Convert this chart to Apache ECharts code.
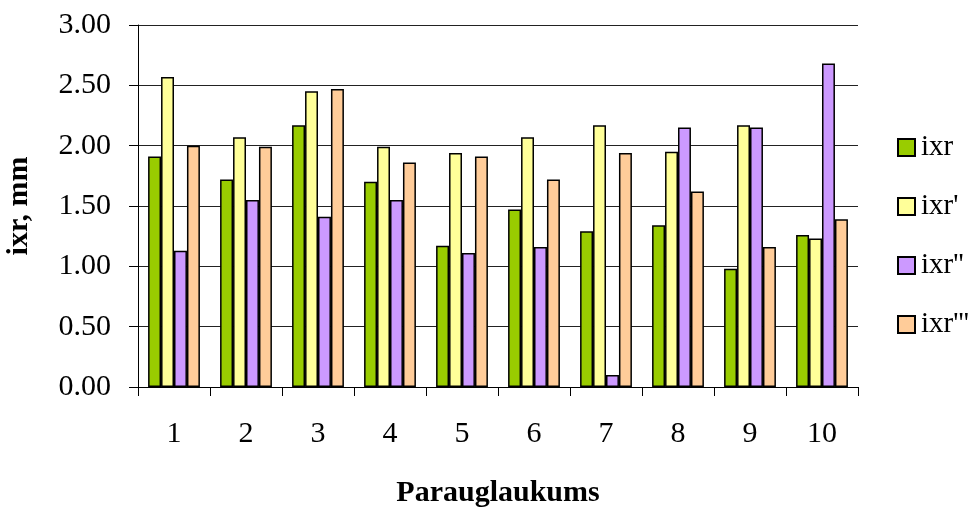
<!DOCTYPE html>
<html>
<head>
<meta charset="utf-8">
<script src="https://cdn.jsdelivr.net/npm/echarts@6/dist/echarts.min.js"></script>
<style>html,body{margin:0;padding:0;background:#fff;}#c{width:968px;height:508px;}</style>
</head>
<body>
<div id="c"></div>
<script>
const categories = ['1','2','3','4','5','6','7','8','9','10'];
const seriesNames = ['ixr', "ixr'", "ixr''", "ixr'''"];
const ixr   = [1.91, 1.72, 2.17, 1.70, 1.17, 1.47, 1.29, 1.34, 0.98, 1.26];
const ixr1  = [2.57, 2.07, 2.45, 1.99, 1.94, 2.07, 2.17, 1.95, 2.17, 1.23];
const ixr2  = [1.13, 1.55, 1.41, 1.55, 1.11, 1.16, 0.10, 2.15, 2.15, 2.68];
const ixr3  = [2.00, 1.99, 2.47, 1.86, 1.91, 1.72, 1.94, 1.62, 1.16, 1.39];
const yTicks = { min: 0, max: 3, interval: 0.5 };

const colors = ['#99CC00', '#FFFF99', '#CC99FF', '#FFCC99'];
const font = '"Liberation Serif", "Times New Roman", serif';
const values = [ixr, ixr1, ixr2, ixr3];

const chart = echarts.init(document.getElementById('c'), null, { renderer: 'canvas' });
chart.setOption({
  animation: false,
  backgroundColor: '#fff',
  textStyle: { fontFamily: font },
  grid: { left: 138, right: 110, top: 25, bottom: 121, containLabel: false, outerBoundsMode: 'none' },
  legend: {
    orient: 'vertical',
    left: 892,
    top: 128,
    itemWidth: 17,
    itemHeight: 17,
    itemGap: 30,
    icon: 'rect',
    textStyle: { fontFamily: font, fontSize: 29, color: '#000', padding: [0, 0, 0, 1] },
    data: seriesNames
  },
  xAxis: {
    type: 'category',
    data: categories,
    name: 'Parauglaukums',
    nameLocation: 'middle',
    nameGap: 91,
    nameTextStyle: { fontFamily: font, fontSize: 30, fontWeight: 'bold', color: '#000' },
    axisLine: { lineStyle: { color: '#000', width: 1 } },
    axisTick: { show: true, length: 9, lineStyle: { color: '#000' } },
    axisLabel: { fontFamily: font, fontSize: 30, color: '#000', margin: 32 },
    splitLine: { show: false }
  },
  yAxis: {
    type: 'value',
    min: yTicks.min,
    max: yTicks.max,
    interval: yTicks.interval,
    name: 'ixr, mm',
    nameLocation: 'middle',
    nameGap: 104,
    nameRotate: 90,
    nameTextStyle: { fontFamily: font, fontSize: 30, fontWeight: 'bold', color: '#000' },
    axisLine: { show: true, lineStyle: { color: '#000', width: 1 } },
    axisTick: { show: true, length: 9, lineStyle: { color: '#000' } },
    axisLabel: { fontFamily: font, fontSize: 30, color: '#000', margin: 27, formatter: v => v.toFixed(2) },
    splitLine: { show: true, lineStyle: { color: '#222', width: 1 } }
  },
  series: seriesNames.map((n, i) => ({
    name: n,
    type: 'bar',
    data: values[i],
    barGap: '0%',
    barCategoryGap: '28%',
    itemStyle: { color: colors[i], borderColor: '#000', borderWidth: 1.5 }
  }))
});
</script>
</body>
</html>
